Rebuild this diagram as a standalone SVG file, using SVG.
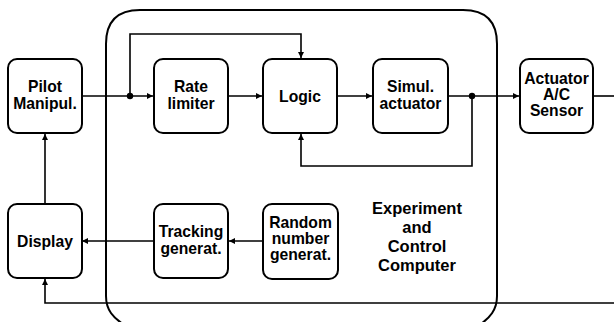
<svg xmlns="http://www.w3.org/2000/svg" width="614" height="322" viewBox="0 0 614 322">
<defs>
<style>
.box{fill:#fff;stroke:#000;stroke-width:2}
.frame{fill:none;stroke:#000;stroke-width:2}
.ln{fill:none;stroke:#000;stroke-width:1.6}
text{font-family:"Liberation Sans",Arial,sans-serif;font-weight:bold;font-size:15.7px;text-anchor:middle;fill:#000}
.big{font-size:16.5px}
</style>
<marker id="ah" viewBox="0 0 10 10" refX="10" refY="5" markerWidth="7" markerHeight="6" markerUnits="userSpaceOnUse" orient="auto">
<path d="M0,0 L10,5 L0,10 z" fill="#000"/>
</marker>
</defs>
<rect width="614" height="322" fill="#fff"/>
<g id="computer">
<path class="frame" d="M106,296 L106,44 Q106,10 140,10 L463,10 Q497,10 497,44 L497,296 C497,310 490,318 478,326"/>
<path class="frame" d="M106,296 C106,310 113,318 126,326"/>
<text class="big" x="417" y="214">Experiment</text>
<text class="big" x="417" y="233">and</text>
<text class="big" x="417" y="252">Control</text>
<text class="big" x="417" y="271">Computer</text>
</g>
<g id="connectors">
<path class="ln" d="M82,96 L130,96 L153,96" marker-end="url(#ah)"/>
<path class="ln" d="M130,96 L130,34 L301,34 L301,58" marker-end="url(#ah)"/>
<path class="ln" d="M229,96 L262,96" marker-end="url(#ah)"/>
<path class="ln" d="M338,96 L372,96" marker-end="url(#ah)"/>
<path class="ln" d="M449,96 L519,96" marker-end="url(#ah)"/>
<path class="ln" d="M472,96 L472,166 L301,166 L301,134" marker-end="url(#ah)"/>
<path class="ln" d="M594,96 L614,96"/>
<path class="ln" d="M263,241 L229,241" marker-end="url(#ah)"/>
<path class="ln" d="M154,241 L82,241" marker-end="url(#ah)"/>
<path class="ln" d="M45,204 L45,134" marker-end="url(#ah)"/>
<path class="ln" d="M614,303 L45,303 L45,279" marker-end="url(#ah)"/>
<circle cx="130" cy="96" r="3.2" fill="#000"/>
<circle cx="472" cy="96" r="3.2" fill="#000"/>
</g>
<g id="pilot">
<rect class="box" x="8" y="59" width="74" height="74" rx="9"/>
<text x="45" y="92">Pilot</text>
<text x="45" y="109">Manipul.</text>
</g>
<g id="rate">
<rect class="box" x="154" y="59" width="74" height="74" rx="9"/>
<text x="191" y="92">Rate</text>
<text x="191" y="109">limiter</text>
</g>
<g id="logic">
<rect class="box" x="263" y="59" width="74" height="74" rx="9"/>
<text x="300" y="101.5">Logic</text>
</g>
<g id="simul">
<rect class="box" x="373" y="59" width="75" height="74" rx="9"/>
<text x="410.5" y="92">Simul.</text>
<text x="410.5" y="109">actuator</text>
</g>
<g id="actuator">
<rect class="box" x="520" y="59" width="73" height="74" rx="9"/>
<text x="556.5" y="83.5">Actuator</text>
<text x="556.5" y="99.5">A/C</text>
<text x="556.5" y="116">Sensor</text>
</g>
<g id="display">
<rect class="box" x="8" y="204" width="74" height="74" rx="9"/>
<text x="45" y="247">Display</text>
</g>
<g id="tracking">
<rect class="box" x="154" y="204" width="74" height="74" rx="9"/>
<text x="191" y="237">Tracking</text>
<text x="191" y="254">generat.</text>
</g>
<g id="random">
<rect class="box" x="263" y="204" width="75" height="75" rx="9"/>
<text x="300.5" y="228">Random</text>
<text x="300.5" y="244">number</text>
<text x="300.5" y="260">generat.</text>
</g>
</svg>
